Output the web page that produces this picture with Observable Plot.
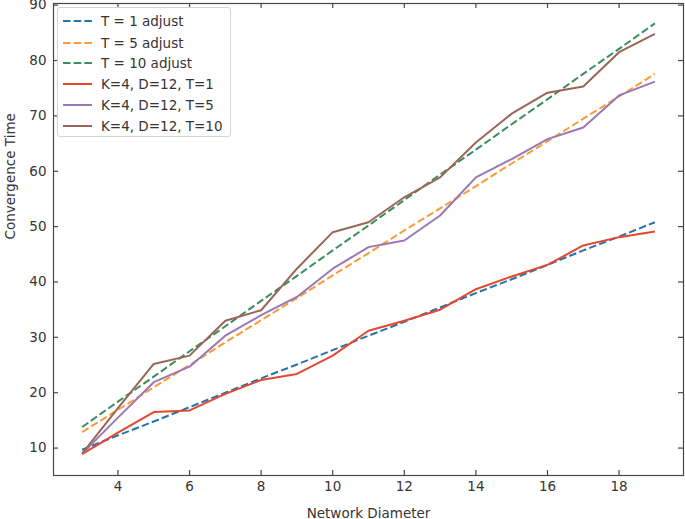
<!DOCTYPE html>
<html><head><meta charset="utf-8">
<script src="https://cdn.jsdelivr.net/npm/d3@7"></script>
<script src="https://cdn.jsdelivr.net/npm/@observablehq/plot@0.6"></script>
<style>
body{margin:0;background:#fff;font-family:"DejaVu Sans",sans-serif;}
#wrap{position:relative;width:685px;height:519px;}
#legend{position:absolute;left:57px;top:7px;width:174px;height:130px;border:1px solid #d4d4d4;border-radius:3px;background:rgba(255,255,255,0.85);box-sizing:border-box;}
.row{position:absolute;left:0;height:20px;display:flex;align-items:center;font-size:13.5px;color:#3a3333;white-space:nowrap;}
.row svg{margin-left:5px;margin-right:9px;}
</style></head>
<body><div id="wrap"><div id="legend"></div></div>
<script>
const diameters = [3,4,5,6,7,8,9,10,11,12,13,14,15,16,17,18,19];
const t1Adjust  = [9.7,12.3,14.8,17.4,20.0,22.6,25.1,27.7,30.3,32.8,35.4,38.0,40.5,43.1,45.7,48.2,50.8];
const t5Adjust  = [12.9,16.9,21.0,25.0,29.1,33.1,37.1,41.2,45.2,49.3,53.3,57.3,61.4,65.4,69.5,73.5,77.6];
const t10Adjust = [13.8,18.4,22.9,27.5,32.0,36.6,41.1,45.7,50.2,54.8,59.4,63.9,68.5,73.0,77.6,82.1,86.7];
const k4T1  = [8.9,12.8,16.5,16.8,19.8,22.3,23.4,26.7,31.2,33.0,35.0,38.7,41.0,43.1,46.6,48.1,49.1];
const k4T5  = [9.0,15.5,21.9,24.7,30.3,34.0,37.3,42.4,46.3,47.5,52.0,58.9,62.2,65.8,67.9,73.7,76.2];
const k4T10 = [9.0,17.2,25.2,26.7,33.0,34.9,42.4,49.0,50.8,55.3,58.9,65.2,70.4,74.2,75.3,81.5,84.8];
const seriesNames = ["T = 1 adjust","T = 5 adjust","T = 10 adjust","K=4, D=12, T=1","K=4, D=12, T=5","K=4, D=12, T=10"];
const seriesValues = [t1Adjust,t5Adjust,t10Adjust,k4T1,k4T5,k4T10];
const seriesColors = ["#2474ab","#fb9a3a","#3a8d5d","#e2482f","#9a77b5","#9a6657"];
const seriesDashed = [true,true,true,false,false,false];
const xTicks = [4,6,8,10,12,14,16,18];
const yTicks = [10,20,30,40,50,60,70,80,90];
const xLabel = "Network Diameter";
const yLabel = "Convergence Time";
const xDomain = [2.2,19.8];
const yDomain = [5.05,90.3];

const ink = "#3a3333";
const spine = "#4d4545";
const dash = "7.5,3.2";

const marks = [];
seriesNames.forEach((name,i)=>{
  const data = diameters.map((d,j)=>({x:d,y:seriesValues[i][j]}));
  marks.push(Plot.line(data,{x:"x",y:"y",stroke:seriesColors[i],strokeWidth:2,
    strokeDasharray:seriesDashed[i]?dash:null,strokeLinecap:"butt"}));
});
// inward ticks on all four sides
marks.push(Plot.ruleX(xTicks,{x:d=>d,y1:yDomain[0],y2:yDomain[0],insetTop:-5,stroke:spine,strokeWidth:1.2}));
marks.push(Plot.ruleX(xTicks,{x:d=>d,y1:yDomain[1],y2:yDomain[1],insetBottom:-5,stroke:spine,strokeWidth:1.2}));
marks.push(Plot.ruleY(yTicks,{y:d=>d,x1:xDomain[0],x2:xDomain[0],insetRight:-5,stroke:spine,strokeWidth:1.2}));
marks.push(Plot.ruleY(yTicks,{y:d=>d,x1:xDomain[1],x2:xDomain[1],insetLeft:-5,stroke:spine,strokeWidth:1.2}));
marks.push(Plot.frame({stroke:spine,strokeWidth:1.2}));
marks.push(Plot.axisX({ticks:xTicks,tickSize:0,tickPadding:6,label:null,fontSize:13.5,color:ink}));
marks.push(Plot.axisY({ticks:yTicks,tickSize:0,tickPadding:7,label:null,fontSize:13.5,color:ink}));
marks.push(Plot.text([xLabel],{text:d=>d,frameAnchor:"bottom",dy:38,lineAnchor:"middle",fontSize:13.5,fill:ink}));
marks.push(Plot.text([yLabel],{text:d=>d,frameAnchor:"left",dx:-43,rotate:-90,lineAnchor:"middle",fontSize:13.5,fill:ink}));

const chart = Plot.plot({
  width:685,height:519,
  marginLeft:53,marginRight:2,marginTop:3,marginBottom:44,
  style:{fontFamily:"DejaVu Sans",fontSize:"13.5px",color:ink,background:"#fff"},
  x:{domain:xDomain,axis:null},
  y:{domain:yDomain,axis:null},
  marks
});
const wrap = document.getElementById("wrap");
wrap.insertBefore(chart, wrap.firstChild);
chart.style.position="absolute";chart.style.left="0";chart.style.top="0";

const legend = document.getElementById("legend");
const rowCenters = [13,34.5,55.3,76.3,97,117.5];
seriesNames.forEach((name,i)=>{
  const row = document.createElement("div");
  row.className="row";
  row.style.top=(rowCenters[i]-10)+"px";
  row.innerHTML=`<svg width="29" height="6"><line x1="0" y1="3" x2="29" y2="3" stroke="${seriesColors[i]}" stroke-width="2" ${seriesDashed[i]?`stroke-dasharray="${dash}"`:""}/></svg><span>${name}</span>`;
  legend.appendChild(row);
});
</script></body></html>
